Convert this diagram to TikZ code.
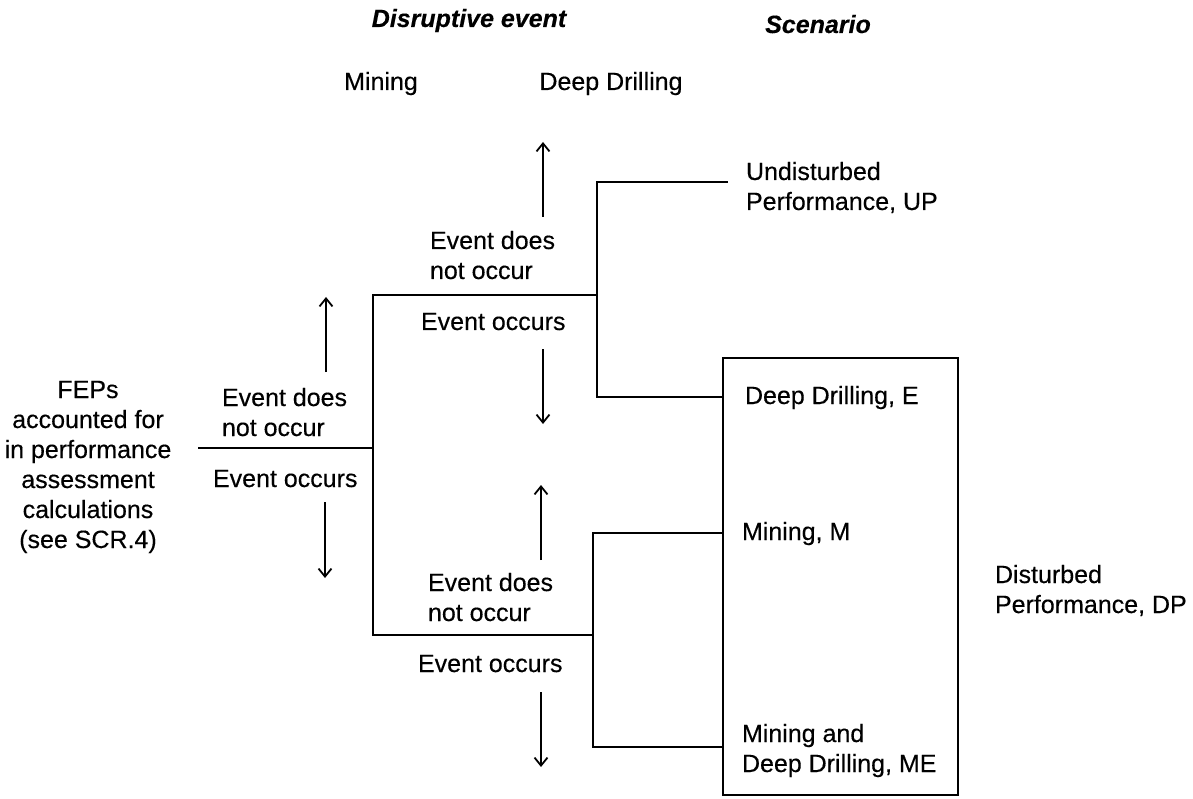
\documentclass[tikz,border=0pt]{standalone}
\usepackage{fontspec}
\setmainfont{Liberation Sans}[FakeBold=0.3]
\usetikzlibrary{arrows.meta}
\begin{document}
\begin{tikzpicture}[x=1pt,y=-1pt,
  every node/.style={font=\fontsize{25}{30}\selectfont, inner sep=0pt, outer sep=0pt},
  title/.style={font=\fontsize{25}{30}\selectfont\bfseries\itshape, anchor=base},
  lbl/.style={anchor=base west, align=left},
  tree/.style={line width=2.4pt, line cap=rect},
  evarrow/.style={line width=1.8pt, -{Straight Barb[length=8pt,width=13pt]}},
  dpbox/.style={draw, line width=2.6pt, minimum width=235pt, minimum height=437pt}
]
\useasboundingbox (0,0) rectangle (1193,799);

% headings
\node[title] (hdis) at (469,27) {Disruptive event};
\node[title] (hsc) at (818,33) {Scenario};
\node[anchor=base] (hmin) at (381,90) {Mining};
\node[anchor=base] (hdd) at (611,90) {Deep Drilling};

% box
\node[dpbox] (box) at (840.5,576.5) {};

% tree coordinates
\coordinate (root) at (199,448);
\coordinate (j1) at (373,448);
\coordinate (j1t) at (373,295);
\coordinate (j1b) at (373,635);
\coordinate (j2) at (597,295);
\coordinate (j2t) at (597,182);
\coordinate (j2b) at (597,397);
\coordinate (upend) at (727,182);
\coordinate (j3) at (593,635);
\coordinate (j3t) at (593,533);
\coordinate (j3b) at (593,747);

\draw[tree] (root) -- (j1);
\draw[tree] (j1t) -- (j1b);
\draw[tree] (j1t) -- (j2);
\draw[tree] (j2t) -- (j2b);
\draw[tree] (j2t) -- (upend);
\draw[tree] (j2b) -- (box.west |- j2b);
\draw[tree] (j1b) -- (j3);
\draw[tree] (j3t) -- (j3b);
\draw[tree] (j3t) -- (box.west |- j3t);
\draw[tree] (j3b) -- (box.west |- j3b);

% left text (base anchor = last line)
\node[anchor=base, align=center] (feps) at (88,548)
  {FEPs\\accounted for\\in performance\\assessment\\calculations\\(see SCR.4)};

% event labels
\node[lbl] (n1) at (222,436) {Event does\\not occur};
\node[lbl] (o1) at (213,487) {Event occurs};
\node[lbl] (n2) at (430,279) {Event does\\not occur};
\node[lbl] (o2) at (421,330) {Event occurs};
\node[lbl] (n3) at (428,621) {Event does\\not occur};
\node[lbl] (o3) at (418,672) {Event occurs};

% scenario labels
\node[lbl] (up) at (746,210) {Undisturbed\\Performance, UP};
\node[lbl] (se) at (745,404) {Deep Drilling, E};
\node[lbl] (sm) at (742,540) {Mining, M};
\node[lbl] (sme) at (742,772) {Mining and\\Deep Drilling, ME};
\node[lbl] (dp) at (995,613) {Disturbed\\Performance, DP};

% arrows
\coordinate (a1s) at (543,217); \coordinate (a1e) at (543,142);
\coordinate (a2s) at (543,349); \coordinate (a2e) at (543,424);
\coordinate (a3s) at (326,372); \coordinate (a3e) at (326,297);
\coordinate (a4s) at (325,502); \coordinate (a4e) at (325,578);
\coordinate (a5s) at (541,560); \coordinate (a5e) at (541,485);
\coordinate (a6s) at (541,692); \coordinate (a6e) at (541,767);
\draw[evarrow] (a1s) -- (a1e);
\draw[evarrow] (a2s) -- (a2e);
\draw[evarrow] (a3s) -- (a3e);
\draw[evarrow] (a4s) -- (a4e);
\draw[evarrow] (a5s) -- (a5e);
\draw[evarrow] (a6s) -- (a6e);
\end{tikzpicture}
\end{document}
